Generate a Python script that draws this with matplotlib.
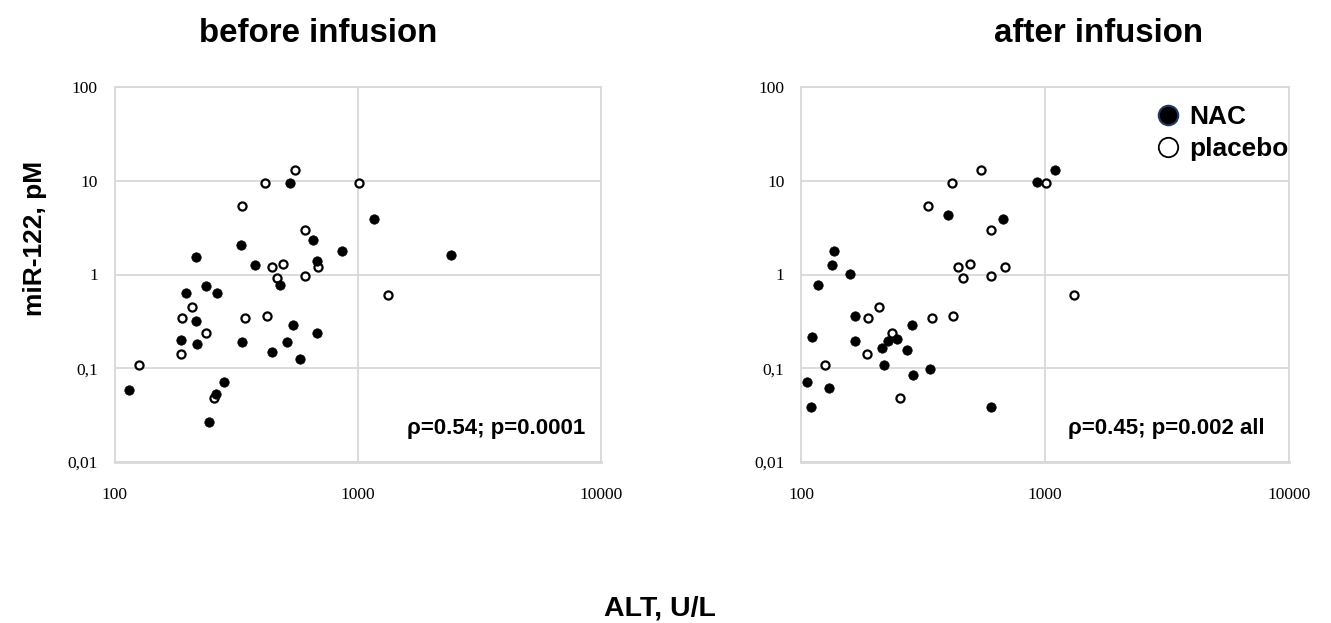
import matplotlib
matplotlib.use("Agg")
import matplotlib.pyplot as plt
from matplotlib import font_manager
from matplotlib.lines import Line2D
from matplotlib.ticker import FixedLocator, NullLocator

# before infusion (ALT U/L, miR-122 pM)
before_nac_alt = [527, 1170, 657, 330, 859, 2412, 216, 678, 378, 479, 237, 196, 264,
                  216, 543, 678, 187, 334, 512, 219, 443, 579, 281, 115, 261, 244]
before_nac_mir = [9.45, 3.91, 2.32, 2.08, 1.80, 1.62, 1.54, 1.40, 1.25, 0.78, 0.75, 0.64, 0.64,
                  0.32, 0.29, 0.238, 0.20, 0.19, 0.19, 0.183, 0.149, 0.127, 0.072, 0.059, 0.053, 0.027]
before_pla_alt = [552, 416, 1013, 333, 607, 494, 443, 689, 464, 607,
                  209, 190, 345, 422, 237, 187, 126, 256, 1328]
before_pla_mir = [12.9, 9.45, 9.45, 5.33, 3.01, 1.31, 1.19, 1.19, 0.92, 0.97,
                  0.45, 0.34, 0.34, 0.36, 0.238, 0.143, 0.109, 0.048, 0.60]

# after infusion
after_nac_alt = [923, 1094, 401, 674, 136, 134, 159, 117, 167, 285, 111, 167,
                 228, 247, 214, 271, 219, 339, 289, 106, 130, 110, 603]
after_nac_mir = [9.8, 13.1, 4.31, 3.91, 1.80, 1.25, 1.02, 0.78, 0.36, 0.29, 0.215, 0.194,
                 0.194, 0.204, 0.164, 0.157, 0.109, 0.0975, 0.084, 0.072, 0.062, 0.039, 0.039]
after_pla_alt = [548, 414, 1011, 1313, 332, 603, 441, 491, 463, 603,
                 684, 208, 189, 343, 420, 236, 186, 126, 255]
after_pla_mir = [12.9, 9.45, 9.45, 0.61, 5.33, 3.01, 1.19, 1.31, 0.92, 0.97,
                 1.19, 0.45, 0.34, 0.34, 0.36, 0.24, 0.143, 0.109, 0.048]

x_ticks = [100, 1000, 10000]
x_ticklabels = ["100", "1000", "10000"]
y_ticks = [0.01, 0.1, 1, 10, 100]
y_ticklabels = ["0,01", "0,1", "1", "10", "100"]

titles = ["before infusion", "after infusion"]
stats = ["ρ=0.54; p=0.0001", "ρ=0.45; p=0.002 all"]

names = {f.name for f in font_manager.fontManager.ttflist}
if "Liberation Sans Narrow" in names:
    sans, k = "Liberation Sans Narrow", 1.0
else:
    sans, k = "Liberation Sans", 0.82

grid_c = "#d9d9d9"

fig = plt.figure(figsize=(13.31, 6.23), dpi=100)
ax_l = fig.add_axes([114.5 / 1331, 1 - 462 / 623, 486.5 / 1331, 375 / 623])
ax_r = fig.add_axes([801 / 1331, 1 - 462 / 623, 488 / 1331, 375 / 623])

panels = [
    (ax_l, before_nac_alt, before_nac_mir, before_pla_alt, before_pla_mir),
    (ax_r, after_nac_alt, after_nac_mir, after_pla_alt, after_pla_mir),
]

for i, (ax, nx, ny, px, py) in enumerate(panels):
    ax.set_xscale("log")
    ax.set_yscale("log")
    ax.set_xlim(100, 10000)
    ax.set_ylim(0.01, 100)
    ax.scatter(px, py, s=34, facecolor="white", edgecolor="black", linewidth=1.6, zorder=3)
    ax.scatter(nx, ny, s=46, facecolor="black", edgecolor="black", linewidth=0.5, zorder=4)

    ax.xaxis.set_major_locator(FixedLocator(x_ticks))
    ax.yaxis.set_major_locator(FixedLocator(y_ticks))
    ax.xaxis.set_minor_locator(NullLocator())
    ax.yaxis.set_minor_locator(NullLocator())
    ax.set_xticklabels(x_ticklabels, family="Liberation Serif", fontsize=12.5)
    ax.set_yticklabels(y_ticklabels, family="Liberation Serif", fontsize=12.5)
    ax.tick_params(axis="both", length=0)
    ax.tick_params(axis="x", pad=18)
    ax.tick_params(axis="y", pad=12)
    ax.grid(True, color=grid_c, linewidth=1.3)
    ax.set_axisbelow(True)
    for side, sp in ax.spines.items():
        sp.set_color(grid_c)
        sp.set_linewidth(2.0 if side == "bottom" else 1.3)

    ax.text(0.967 if i == 0 else 0.951, 0.09, stats[i], transform=ax.transAxes,
            ha="right", va="center", family=sans, weight="bold", fontsize=19.5 * k)

fig.text(318 / 1331, 1 - 42 / 623, titles[0], ha="center", va="baseline",
         family=sans, weight="bold", fontsize=29 * k)
fig.text(1098 / 1331, 1 - 42 / 623, titles[1], ha="center", va="baseline",
         family=sans, weight="bold", fontsize=29 * k)

fig.text(35 / 1331, 1 - 238 / 623, "miR-122, pM", rotation=90, ha="center", va="center",
         family="Liberation Sans", weight="bold", fontsize=19)
fig.text(660 / 1331, 8 / 623, "ALT, U/L", ha="center", va="baseline",
         family=sans, weight="bold", fontsize=25 * k)

handles = [
    Line2D([], [], marker="o", linestyle="none", markersize=14, markerfacecolor="black",
           markeredgecolor="#1f3864", markeredgewidth=1.5),
    Line2D([], [], marker="o", linestyle="none", markersize=14, markerfacecolor="white",
           markeredgecolor="black", markeredgewidth=1.3),
]
ax_r.legend(handles, ["NAC", "placebo"], loc="upper left", bbox_to_anchor=(0.71, 0.98),
            frameon=False, handlelength=0.8, handletextpad=0.4, labelspacing=0.3,
            borderaxespad=0, prop={"family": sans, "weight": "bold", "size": 23 * k})

fig.savefig("out.png", dpi=100)
